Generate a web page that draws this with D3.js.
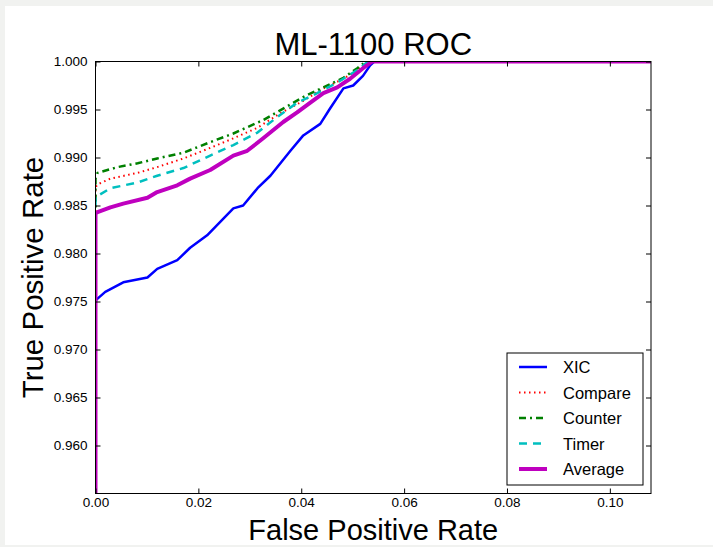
<!DOCTYPE html>
<html>
<head>
<meta charset="utf-8">
<script src="https://cdn.jsdelivr.net/npm/d3@7"></script>
<style>
  body { margin: 0; background: #f1f2f0; }
  svg { display: block; }
  text { font-family: "Liberation Sans", Arial, sans-serif; }
</style>
</head>
<body>
<div id="chart"></div>
<script>
// roc curves: [fpr, tpr]
var xic = [[0,0.95],[0,0.9751],[0.0004,0.9753],[0.0019,0.9760],[0.0054,0.9770],[0.0101,0.9775],[0.0120,0.9784],
  [0.0159,0.9793],[0.0184,0.9806],[0.0217,0.9819],[0.0268,0.9847],[0.0287,0.9850],[0.0315,0.9868],[0.0340,0.9881],
  [0.0379,0.9907],[0.0404,0.9923],[0.0437,0.9935],[0.0456,0.9951],[0.0482,0.9972],[0.0501,0.9975],[0.0520,0.9985],
  [0.0534,0.9996],[0.0542,1.0],[0.11,1.0]];
var compare = [[0,0.95],[0,0.9869],[0.0004,0.9872],[0.0029,0.9878],[0.0082,0.9884],[0.0120,0.9890],[0.0171,0.9899],
  [0.0223,0.9910],[0.0268,0.9920],[0.0315,0.9931],[0.0359,0.9946],[0.0404,0.9959],[0.0443,0.9972],[0.0482,0.9982],
  [0.0509,0.9991],[0.0530,1.0],[0.11,1.0]];
var counter = [[0,0.95],[0,0.9878],[0.0004,0.9884],[0.0043,0.9890],[0.0082,0.9894],[0.0120,0.9899],[0.0171,0.9905],
  [0.0223,0.9916],[0.0268,0.9925],[0.0326,0.9939],[0.0359,0.9949],[0.0404,0.9963],[0.0443,0.9973],[0.0482,0.9983],
  [0.0509,0.9993],[0.0526,1.0],[0.11,1.0]];
var timer = [[0,0.95],[0,0.9859],[0.0004,0.9860],[0.0029,0.9868],[0.0082,0.9874],[0.0120,0.9881],[0.0171,0.9889],
  [0.0223,0.9902],[0.0268,0.9913],[0.0315,0.9926],[0.0353,0.9942],[0.0392,0.9957],[0.0431,0.9967],[0.0470,0.9978],
  [0.0509,0.9991],[0.0530,1.0],[0.11,1.0]];
var average = [[0,0.95],[0,0.9842],[0.0004,0.9843],[0.0029,0.9848],[0.0054,0.9852],[0.0101,0.9858],[0.0120,0.9864],
  [0.0159,0.9871],[0.0184,0.9878],[0.0223,0.9887],[0.0268,0.9902],[0.0295,0.9907],[0.0326,0.9920],[0.0365,0.9937],
  [0.0392,0.9947],[0.0417,0.9957],[0.0443,0.9967],[0.0470,0.9973],[0.0495,0.9982],[0.0520,0.9993],[0.0538,1.0],[0.11,1.0]];

var xTicks = [0, 0.02, 0.04, 0.06, 0.08, 0.10];
var yTicks = [0.960, 0.965, 0.970, 0.975, 0.980, 0.985, 0.990, 0.995, 1.000];

var series = [
  {name: "XIC", data: xic, color: "#0000ff", width: 2.5, dash: null},
  {name: "Compare", data: compare, color: "#ff0000", width: 2, dash: "1.5,3.5"},
  {name: "Counter", data: counter, color: "#008000", width: 2.5, dash: "7,4,2,4"},
  {name: "Timer", data: timer, color: "#00bfbf", width: 2.5, dash: "8,6"},
  {name: "Average", data: average, color: "#bf00bf", width: 4, dash: null}
];

var svgWidth = 713, svgHeight = 547;
var margin = {top: 61.5, right: 62, bottom: 53.5, left: 95.5},
    width = svgWidth - margin.left - margin.right,
    height = svgHeight - margin.top - margin.bottom;

var svg = d3.select("#chart").append("svg")
  .attr("width", svgWidth)
  .attr("height", svgHeight);

// white page area
svg.append("rect")
  .attr("x", 5).attr("y", 6)
  .attr("width", svgWidth - 5).attr("height", 539)
  .attr("fill", "#fff");

var g = svg.append("g")
  .attr("transform", "translate(" + margin.left + "," + margin.top + ")");

var x = d3.scaleLinear().domain([0, 0.108]).range([0, width]);
var y = d3.scaleLinear().domain([0.955, 1.0]).range([height, 0]);

g.append("clipPath").attr("id", "clip")
  .append("rect").attr("width", width).attr("height", height);

// lines
var line = d3.line()
  .x(function(d) { return x(d[0]); })
  .y(function(d) { return y(d[1]); });

var lines = g.append("g").attr("clip-path", "url(#clip)");
series.forEach(function(s) {
  lines.append("path")
    .datum(s.data)
    .attr("fill", "none")
    .attr("stroke", s.color)
    .attr("stroke-width", s.width)
    .attr("stroke-dasharray", s.dash)
    .attr("stroke-linejoin", "round")
    .attr("d", line);
});

// axes, ticks pointing inward on all four sides
function styleAxis(sel) {
  sel.select(".domain").remove();
  sel.selectAll(".tick line").attr("stroke", "#000");
  sel.selectAll(".tick text").attr("font-size", 13.5).attr("fill", "#000")
    .attr("font-family", "Liberation Sans, Arial, sans-serif");
}

g.append("g")
  .attr("transform", "translate(0," + height + ")")
  .call(d3.axisBottom(x).tickValues(xTicks).tickFormat(d3.format(".2f")).tickSizeInner(-5).tickPadding(4))
  .call(styleAxis);
g.append("g")
  .call(d3.axisTop(x).tickValues(xTicks).tickFormat("").tickSizeInner(-5))
  .call(styleAxis);
g.append("g")
  .call(d3.axisLeft(y).tickValues(yTicks).tickFormat(d3.format(".3f")).tickSizeInner(-5).tickPadding(8))
  .call(styleAxis);
g.append("g")
  .attr("transform", "translate(" + width + ",0)")
  .call(d3.axisRight(y).tickValues(yTicks).tickFormat("").tickSizeInner(-5))
  .call(styleAxis);

g.append("rect")
  .attr("width", width).attr("height", height)
  .attr("fill", "none").attr("stroke", "#000").attr("stroke-width", 1);

// title and axis labels
svg.append("text")
  .attr("x", margin.left + width / 2).attr("y", 55)
  .attr("text-anchor", "middle").attr("font-size", 31)
  .text("ML-1100 ROC");
svg.append("text")
  .attr("x", margin.left + width / 2).attr("y", 540)
  .attr("text-anchor", "middle").attr("font-size", 29)
  .text("False Positive Rate");
svg.append("text")
  .attr("transform", "translate(43," + (margin.top + height / 2) + ") rotate(-90)")
  .attr("text-anchor", "middle").attr("font-size", 29.5)
  .text("True Positive Rate");

// legend
var legend = g.append("g").attr("transform", "translate(" + (507 - margin.left) + "," + (353 - margin.top) + ")");
legend.append("rect")
  .attr("width", 136).attr("height", 132)
  .attr("fill", "#fff").attr("stroke", "#000").attr("stroke-width", 1);
series.forEach(function(s, i) {
  var ly = 14 + i * 25.5;
  legend.append("line")
    .attr("x1", 12).attr("x2", 40).attr("y1", ly).attr("y2", ly)
    .attr("stroke", s.color)
    .attr("stroke-width", s.width)
    .attr("stroke-dasharray", s.dash);
  legend.append("text")
    .attr("x", 56).attr("y", ly + 6)
    .attr("font-size", 16.5)
    .text(s.name);
});
</script>
</body>
</html>
